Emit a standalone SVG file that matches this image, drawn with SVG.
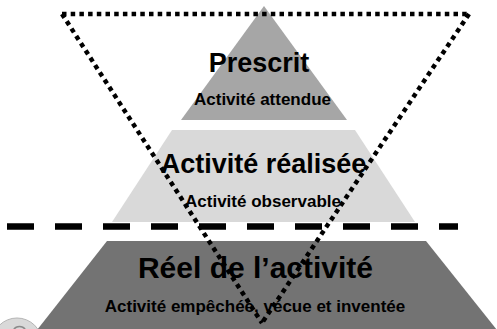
<svg xmlns="http://www.w3.org/2000/svg" width="497" height="329" viewBox="0 0 497 329">
<style>
.big{font-family:"Liberation Sans",Arial,sans-serif;font-weight:bold;font-size:27px;fill:#000;text-anchor:middle}
.small{font-family:"Liberation Sans",Arial,sans-serif;font-weight:bold;font-size:17px;fill:#000;text-anchor:middle}
.dots{fill:none;stroke:#000;stroke-width:4.5;stroke-dasharray:4.5 4.2}
</style>
<rect width="497" height="329" fill="#fff"/>
<g id="circle">
<circle cx="17" cy="343" r="25" fill="#d9d9d9" stroke="#b5b5b5" stroke-width="1"/>
<path d="M13 331 A7 7 0 0 1 26 331" fill="none" stroke="#8a8a8a" stroke-width="1.5"/>
</g>
<g id="prescrit">
<polygon points="264,6 181,120 347,120" fill="#a6a6a6"/>
<text class="big" x="259" y="72">Prescrit</text>
<text class="small" x="262.5" y="105">Activité attendue</text>
</g>
<g id="realisee">
<polygon points="172,130 355,130 415,222 112,222" fill="#d9d9d9"/>
<text class="big" x="263.5" y="173">Activité réalisée</text>
<text class="small" x="263" y="207">Activité observable</text>
</g>
<g id="reel">
<polygon points="107,241 426,241 497,330 37,330" fill="#737373"/>
<text class="big" x="255.5" y="278" style="font-size:30px">Réel de l’activité</text>
<text class="small" x="255" y="312">Activité empêchée, vécue et inventée</text>
</g>
<g id="connectors">
<line x1="7" y1="226.5" x2="458" y2="226.5" stroke="#000" stroke-width="6.5" stroke-dasharray="27 21"/>
<line class="dots" x1="62" y1="14" x2="469" y2="14"/>
<line class="dots" x1="62" y1="14" x2="262" y2="323"/>
<line class="dots" x1="469" y1="14" x2="262" y2="323"/>
</g>
</svg>
